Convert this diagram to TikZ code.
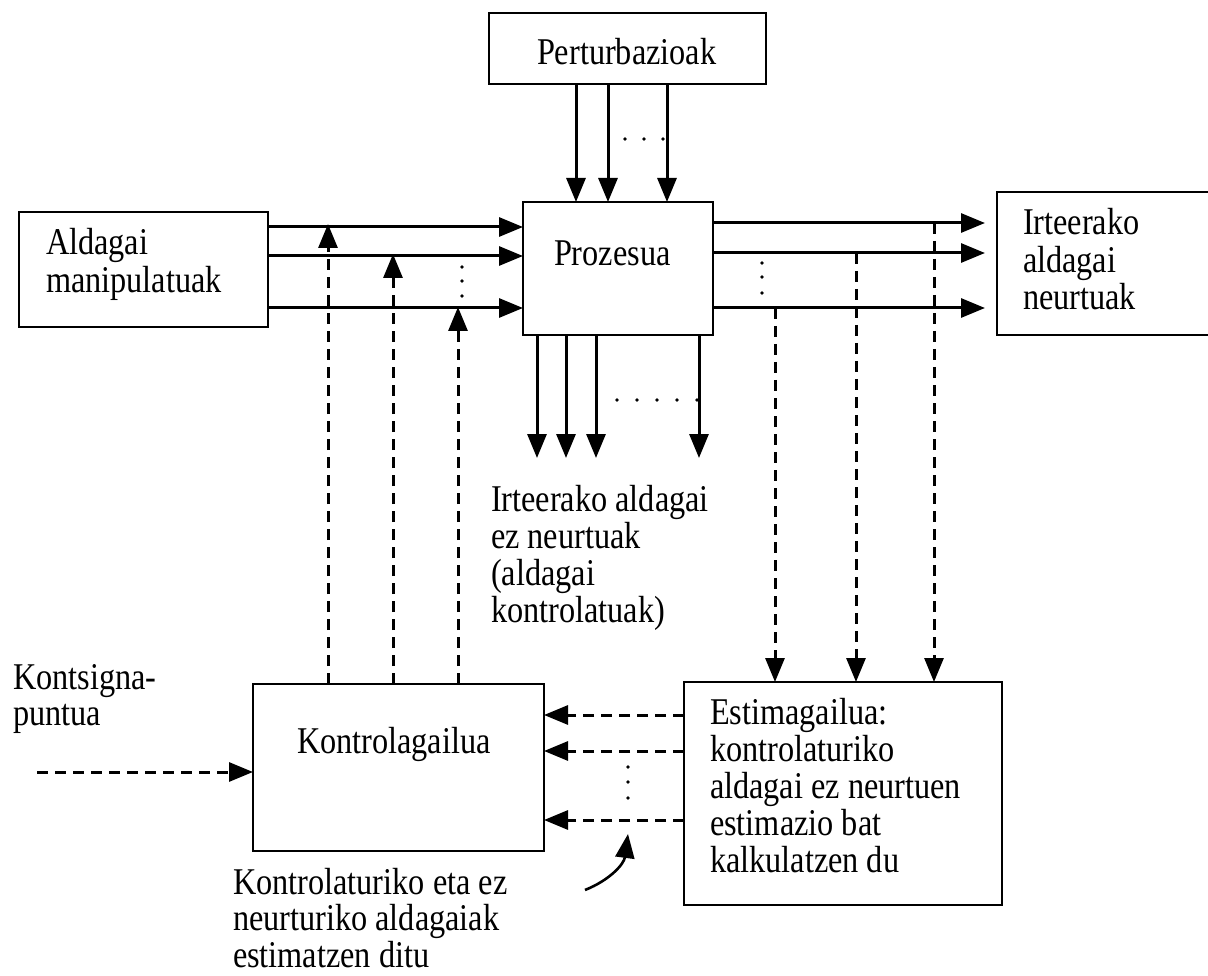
\documentclass[tikz,border=0pt]{standalone}
\usepackage{fontspec}
\setmainfont{Liberation Serif}
\usepackage{graphicx}
\usetikzlibrary{arrows.meta}
\newcommand{\mlines}[1]{\scalebox{1}[1.17]{\begin{tabular}[t]{@{}l@{}}#1\end{tabular}}}
\begin{document}
\begin{tikzpicture}[x=1pt,y=-1pt,
  boxnode/.style={draw, line width=2.8pt, inner sep=0pt, outer sep=0pt},
  txt/.style={inner sep=0pt, outer sep=0pt, anchor=base west, font=\fontsize{32.3}{31.2}\selectfont},
  arr/.style={line width=3pt, -{Triangle[length=24pt,width=19pt]}},
  darr/.style={arr, dash pattern=on 11pt off 7pt},
  dotmark/.style={fill=black}]
\useasboundingbox (0,0) rectangle (1208,976);

% boxes
\node[boxnode, minimum width=277pt, minimum height=71pt] (pert) at (627.5,48.5) {};
\node[boxnode, minimum width=190pt, minimum height=133pt] (proz) at (618,268.5) {};
\node[boxnode, minimum width=249pt, minimum height=115pt] (aldm) at (143.5,269.5) {};
\node[boxnode, minimum width=223pt, minimum height=143pt] (irt) at (1108.5,263.5) {};
\node[boxnode, minimum width=291pt, minimum height=167pt] (kont) at (398.5,767.5) {};
\node[boxnode, minimum width=318pt, minimum height=223pt] (estim) at (843,793.5) {};

% texts
\node[txt] (tpert) at (537,65) {\mlines{Perturbazioak}};
\node[txt] (tproz) at (554,266) {\mlines{Prozesua}};
\node[txt] (taldm) at (46,255) {\mlines{Aldagai\\manipulatuak}};
\node[txt] (tirt) at (1023,235) {\mlines{Irteerako\\aldagai\\neurtuak}};
\node[txt] (tezn) at (491,511) {\mlines{Irteerako aldagai\\ez neurtuak\\(aldagai\\kontrolatuak)}};
\node[txt] (tks) at (13,689) {\mlines{Kontsigna-\\puntua}};
\node[txt] (tkont) at (297,753) {\mlines{Kontrolagailua}};
\node[txt] (testim) at (710,724) {\mlines{Estimagailua:\\kontrolaturiko\\aldagai ez neurtuen\\estimazio bat\\kalkulatzen du}};
\node[txt, font=\fontsize{32.3}{30}\selectfont] (tkez) at (233,894) {\mlines{Kontrolaturiko eta ez\\neurturiko aldagaiak\\estimatzen ditu}};

% perturbations
\coordinate (p1) at (576,0);
\coordinate (p2) at (608,0);
\coordinate (p3) at (667,0);
\draw[arr] (pert.south -| p1) -- (proz.north -| p1);
\draw[arr] (pert.south -| p2) -- (proz.north -| p2);
\draw[arr] (pert.south -| p3) -- (proz.north -| p3);
\foreach \x in {625,644,663} \fill[dotmark] (\x,139) circle[radius=1.9pt];

% manipulated inputs
\coordinate (i1) at (0,227);
\coordinate (i2) at (0,256);
\coordinate (i3) at (0,308);
\draw[arr] (aldm.east |- i1) -- (proz.west |- i1);
\draw[arr] (aldm.east |- i2) -- (proz.west |- i2);
\draw[arr] (aldm.east |- i3) -- (proz.west |- i3);
\foreach \y in {267,281,296} \fill[dotmark] (462,\y) circle[radius=1.9pt];

% controller outputs (dashed up)
\coordinate (c1) at (328,224);
\coordinate (c2) at (393,254);
\coordinate (c3) at (458,307);
\draw[darr] (kont.north -| c1) -- (c1);
\draw[darr] (kont.north -| c2) -- (c2);
\draw[darr] (kont.north -| c3) -- (c3);

% measured outputs
\coordinate (o1) at (985,223);
\coordinate (o2) at (985,253);
\coordinate (o3) at (985,308);
\draw[arr] (proz.east |- o1) -- (o1);
\draw[arr] (proz.east |- o2) -- (o2);
\draw[arr] (proz.east |- o3) -- (o3);
\foreach \y in {263,277,293} \fill[dotmark] (762,\y) circle[radius=1.9pt];

% dashed to estimator
\coordinate (d1) at (934,223);
\coordinate (d2) at (856,253);
\coordinate (d3) at (775,308);
\draw[darr] (d1) -- (estim.north -| d1);
\draw[darr] (d2) -- (estim.north -| d2);
\draw[darr] (d3) -- (estim.north -| d3);

% unmeasured outputs
\coordinate (b1) at (537,458);
\coordinate (b2) at (566,458);
\coordinate (b3) at (596,458);
\coordinate (b4) at (699,458);
\draw[arr] (proz.south -| b1) -- (b1);
\draw[arr] (proz.south -| b2) -- (b2);
\draw[arr] (proz.south -| b3) -- (b3);
\draw[arr] (proz.south -| b4) -- (b4);
\foreach \x in {617,637,657,677,697} \fill[dotmark] (\x,400) circle[radius=1.9pt];

% estimator to controller
\coordinate (e1) at (0,715);
\coordinate (e2) at (0,751);
\coordinate (e3) at (0,820);
\draw[darr] (estim.west |- e1) -- (kont.east |- e1);
\draw[darr] (estim.west |- e2) -- (kont.east |- e2);
\draw[darr] (estim.west |- e3) -- (kont.east |- e3);
\foreach \y in {767,782,798} \fill[dotmark] (628,\y) circle[radius=1.9pt];

% setpoint
\coordinate (ks) at (37,772);
\draw[darr] (ks) -- (kont.west |- ks);

% curved pointer
\coordinate (cv0) at (585,890);
\coordinate (cv1) at (628,834);
\draw[arr, line width=2.6pt] (cv0) .. controls (610,880) and (624,864) .. (cv1);
\end{tikzpicture}
\end{document}
